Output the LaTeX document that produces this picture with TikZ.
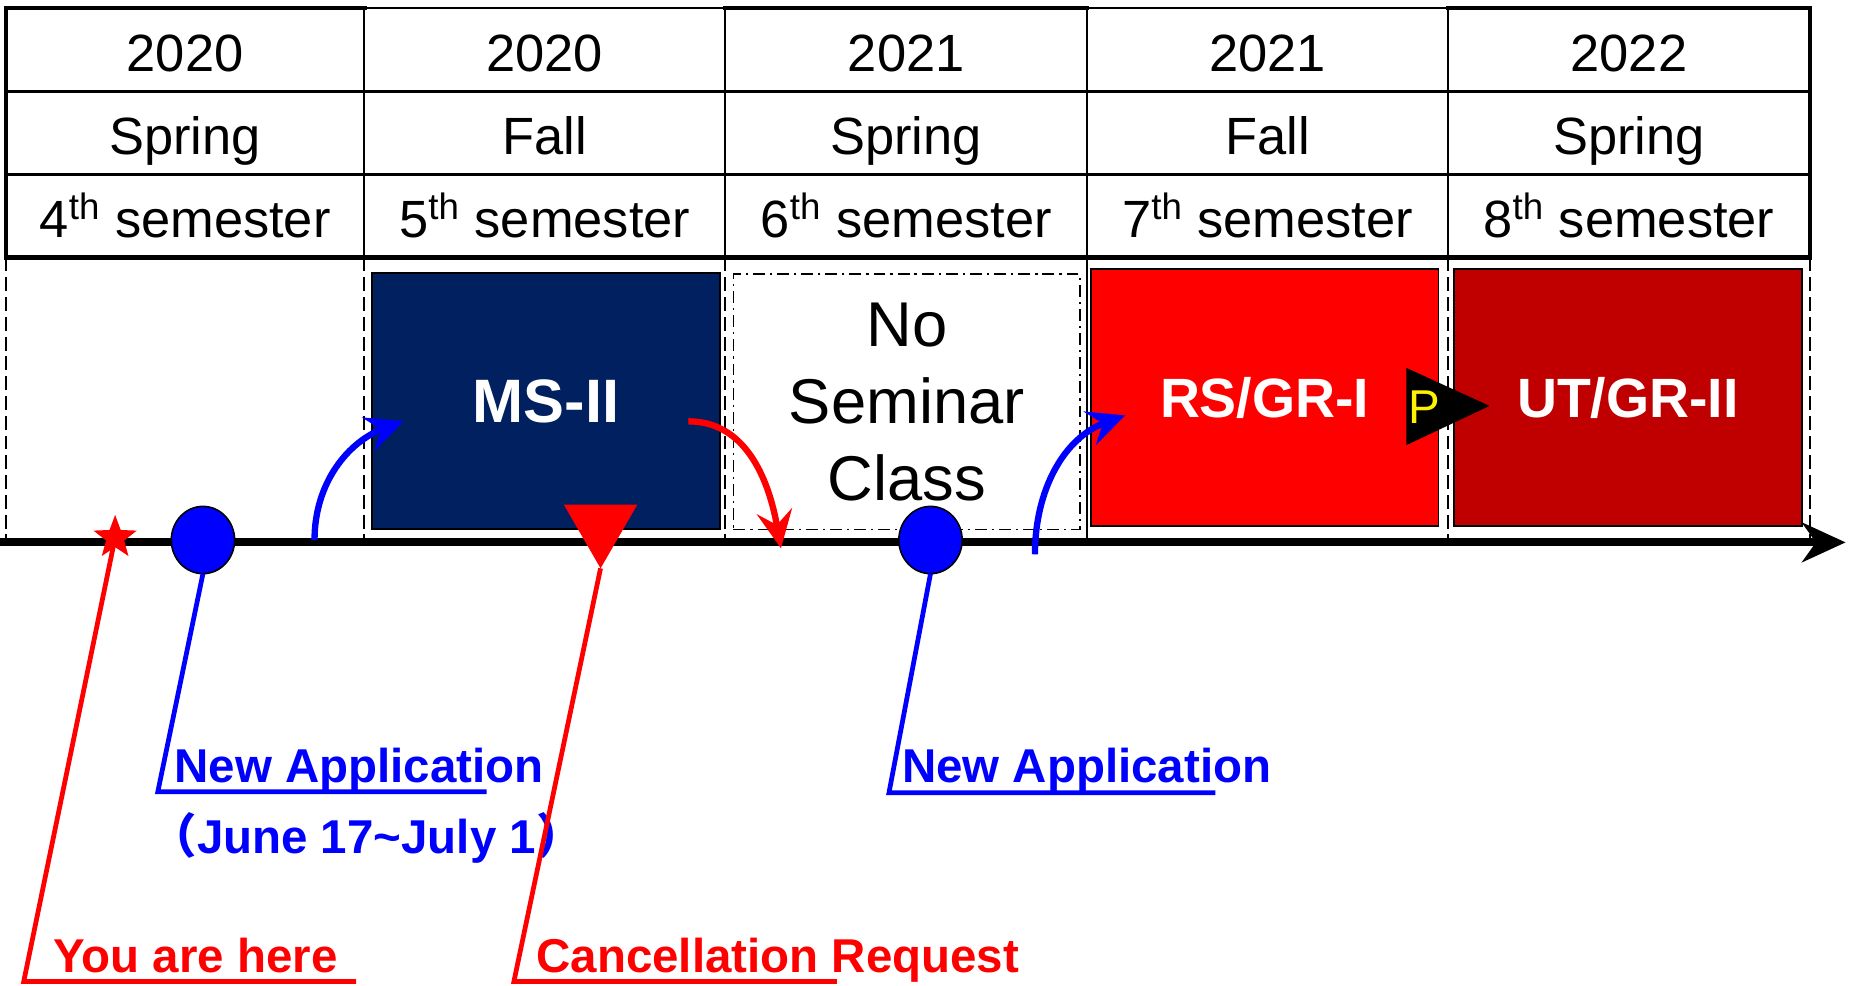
\documentclass[tikz,border=0pt]{standalone}
\usepackage{fontspec}
\setmainfont{Liberation Sans}
\newfontfamily\cjk{Noto Sans CJK SC}
\usetikzlibrary{arrows.meta,shapes.geometric,positioning}

\definecolor{msnavy}{RGB}{0,32,96}
\definecolor{utred}{RGB}{192,0,0}

\tikzset{
  cell/.style={font=\fontsize{26.5}{30}\selectfont, inner sep=0pt, anchor=base},
  thinrule/.style={line width=1pt},
  thickrule/.style={line width=2.2pt, line cap=rect},
  divider/.style={line width=0.9pt, dash pattern=on 7pt off 3pt},
  course/.style={draw=black, line width=1pt, minimum width=175.8pt, minimum height=129.6pt,
    text=white, font=\bfseries\fontsize{28}{32}\selectfont},
  marker/.style={draw=black, line width=0.8pt, fill=blue, ellipse, minimum width=32pt, minimum height=34pt, inner sep=0pt},
  callout/.style={line width=2.4pt},
  note/.style={font=\bfseries\fontsize{24}{28}\selectfont, anchor=base west, inner sep=0pt},
  move/.style={line width=3.2pt, -{Stealth[length=19pt, width=18pt, inset=7pt]}},
  timeline/.style={line width=4pt, -{Stealth[length=22pt, width=20pt, inset=7pt]}},
}

\begin{document}
\begin{tikzpicture}[x=0.6pt, y=-0.6pt, every node/.style={outer sep=0pt}]
  \useasboundingbox (0,0) rectangle (1568,830);

  % semester table
  \foreach \i/\xl/\xr/\yr/\sea/\n in {1/5/307/2020/Spring/4,2/307/611/2020/Fall/5,3/611/916/2021/Spring/6,4/916/1220/2021/Fall/7,5/1220/1525/2022/Spring/8}{
    \draw[thinrule] (\xl,7) rectangle (\xr,217);
    \node (yr\i) [cell] at ({(\xl+\xr)/2},60) {\yr};
    \node (sea\i) [cell] at ({(\xl+\xr)/2},130) {\sea};
    \node (sem\i) [cell] at ({(\xl+\xr)/2},200) {\n\textsuperscript{th} semester};
  }
  \draw[line width=1.6pt] (5,77) -- (1525,77) (5,147) -- (1525,147);
  \draw[thickrule] (5,7) -- (307,7) (611,7) -- (916,7) (1220,7) -- (1525,7);
  \draw[thickrule] (5,7) -- (5,217) -- (1525,217) -- (1525,7);

  % column dividers below the table
  \foreach \x in {5,307,611,1220,1525}
    \draw[divider] (\x,217) -- (\x,457);
  \draw[line width=0.9pt] (916,217) -- (916,457);

  % courses
  \node (ms2) [course, fill=msnavy, font=\bfseries\fontsize{31}{34}\selectfont] at (460,338) {MS-II};
  \node (noclass) [draw, line width=0.8pt, dash pattern=on 6pt off 2.5pt on 1.2pt off 2.5pt,
    minimum width=175.2pt, minimum height=129pt, align=center,
    font=\fontsize{32}{39}\selectfont] at (764,338.5) {No\\Seminar\\Class};
  \node (rsgr1) [course, fill=red] at (1065.5,335) {RS/GR-I};
  \node (utgr2) [course, fill=utred] at (1371.5,335) {UT/GR-II};
  \fill (1185,310) -- (1255,342) -- (1185,375) -- cycle;
  \node (pass) [font=\fontsize{24}{28}\selectfont, text=yellow, inner sep=0pt] at (1200,343) {P};

  % time line
  \coordinate (tl0) at (0,457);
  \coordinate (tl1) at (1555,457);
  \draw[timeline] (tl0) -- (tl1);

  % moves between courses
  \coordinate (go1a) at (265,455);
  \coordinate (go1b) at (340,355);
  \coordinate (dropa) at (580,355);
  \coordinate (dropb) at (658,462);
  \coordinate (go2a) at (872,467);
  \coordinate (go2b) at (948,350);
  \draw[move, blue] (go1a) to[out=90, in=200] (go1b);
  \draw[move, red] (dropa) to[out=0, in=100] (dropb);
  \draw[move, blue] (go2a) to[out=90, in=200] (go2b);

  % markers on the time line
  \node (here) [star, star points=5, star point ratio=2.4, fill=red, inner sep=0pt, minimum size=23pt] at (97,453) {};
  \node (app1) [marker] at (171,455) {};
  \node (app2) [marker] at (784,455) {};
  \node (cancel) [regular polygon, regular polygon sides=3, shape border rotate=180, fill=red,
    minimum size=43pt, inner sep=0pt] at (506,443) {};

  % callouts
  \coordinate (herebend) at (20,827);
  \coordinate (hereend) at (300,827);
  \draw[callout, red] (here.center) -- (herebend) -- (hereend);
  \node (herelbl) [note, text=red] at (45,819) {You are here};

  \coordinate (app1bend) at (133,667);
  \coordinate (app1end) at (410,667);
  \draw[callout, blue] (app1.south) -- (app1bend) -- (app1end);
  \node (app1lbl) [note, text=blue] at (147,659) {New Application};
  \node (app1date) [note, text=blue] at (126,719) {{\cjk （}June 17\textasciitilde July 1{\cjk ）}};

  \coordinate (cancelbend) at (433,827);
  \coordinate (cancelend) at (705,827);
  \draw[callout, red] (cancel.corner 1) -- (cancelbend) -- (cancelend);
  \node (cancellbl) [note, text=red] at (452,819) {Cancellation Request};

  \coordinate (app2bend) at (749,668);
  \coordinate (app2end) at (1024,668);
  \draw[callout, blue] (app2.south) -- (app2bend) -- (app2end);
  \node (app2lbl) [note, text=blue] at (760,659) {New Application};
\end{tikzpicture}
\end{document}
